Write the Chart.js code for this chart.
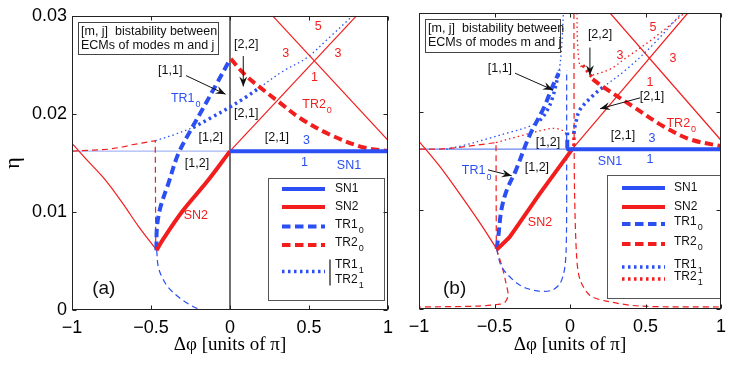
<!DOCTYPE html>
<html>
<head>
<meta charset="utf-8">
<script src="https://cdn.jsdelivr.net/npm/chart.js@4.4.1/dist/chart.umd.min.js"></script>
<style>
  html, body { margin: 0; padding: 0; background: #fff; }
  #wrap { position: relative; width: 747px; height: 376px; }
  canvas { position: absolute; top: 0; }
</style>
</head>
<body>
<div id="wrap">
  <canvas id="chartA" width="400" height="376" style="left:0"></canvas>
  <canvas id="chartB" width="347" height="376" style="left:400px"></canvas>
</div>
<script>
// axis ticks
const xTicks = [-1, -0.5, 0, 0.5, 1];
const yTicks = [0, 0.01, 0.02, 0.03];

// ---- panel (a) curves, points are [dphi, eta] ----
const aSN1 = [[0, 0.0162], [1, 0.0162]];
const aSN1left = [[-1, 0.0162], [0, 0.0162]];
const aSN2 = [[-0.464, 0.0061], [-0.42, 0.0073], [-0.3, 0.0101], [-0.14, 0.0132], [0, 0.0162]];
const aSN2left = [[-1, 0.0170], [-0.9, 0.0152], [-0.786, 0.0132], [-0.68, 0.0109], [-0.578, 0.0085], [-0.464, 0.0061]];
const aSNup = [[0, 0.0162], [0.8, 0.03]];
const aSNdown = [[0.27, 0.03], [1, 0.0173]];
const aTR1_0 = [[-0.466, 0.0061], [-0.462, 0.0085], [-0.44, 0.0105], [-0.39, 0.0129], [-0.328, 0.0159],
                [-0.25, 0.0183], [-0.18, 0.0203], [-0.08, 0.0232], [-0.005, 0.0254]];
const aTR1_0low = [[-0.464, 0.0061], [-0.455, 0.0045], [-0.432, 0.0034], [-0.39, 0.0023], [-0.328, 0.00135],
                   [-0.26, 0.0006], [-0.19, 0]];
const aTR2_0 = [[0.005, 0.0256], [0.1, 0.0239], [0.19, 0.0227], [0.31, 0.0212], [0.45, 0.0195],
                [0.63, 0.0179], [0.84, 0.0166], [1, 0.0162]];
const aTR2_0left = [[-1, 0.0162], [-0.87, 0.0163], [-0.766, 0.0164], [-0.68, 0.01662], [-0.62, 0.01685],
                    [-0.55, 0.01705], [-0.473, 0.01726], [-0.47, 0.0061]];
const aTR1_1start = [[-0.473, 0.01726], [-0.35, 0.0179], [-0.234, 0.0186]];
const aTR1_1mid = [[-0.234, 0.0186], [-0.12, 0.0196], [0, 0.0207], [0.1, 0.0217], [0.19, 0.0227]];
const aTR1_1end = [[0.19, 0.0227], [0.33, 0.0243], [0.484, 0.0257], [0.63, 0.0278], [0.776, 0.03]];
const aZero = [[0, 0], [0, 0.03]];

// ---- panel (b) curves ----
const bSN1 = [[-0.02, 0.0162], [1, 0.0162]];
const bSN1left = [[-1, 0.0162], [-0.02, 0.0162]];
const bSN2 = [[-0.486, 0.006], [-0.4, 0.0073], [-0.2, 0.0117], [0.02, 0.0163]];
const bSN2left = [[-1, 0.0170], [-0.87, 0.0146], [-0.75, 0.0121], [-0.6, 0.0088], [-0.486, 0.0061]];
const bSNup = [[0.02, 0.0163], [0.78, 0.03]];
const bSNdown = [[0.265, 0.03], [1, 0.0171]];
const bTR1_0 = [[-0.486, 0.0061], [-0.475, 0.0073], [-0.455, 0.01], [-0.42, 0.012], [-0.36, 0.014],
                [-0.27, 0.0175], [-0.17, 0.0205], [-0.12, 0.0224], [-0.075, 0.0239]];
const bTR1_0stub = [[-0.018, 0.0163], [-0.018, 0.0179]];
const bTR1_0low = [[-0.486, 0.0061], [-0.46, 0.0045], [-0.42, 0.0036], [-0.35, 0.0026], [-0.29, 0.0021],
                   [-0.2, 0.0018], [-0.12, 0.0019], [-0.07, 0.0025], [-0.045, 0.0034], [-0.032, 0.0045],
                   [-0.026, 0.0058], [-0.023, 0.008], [-0.022, 0.011]];
const bTR1_0rise = [[-0.022, 0.011], [-0.022, 0.0242]];
const bTR2_0 = [[0.15, 0.0233], [0.22, 0.0225], [0.42, 0.0205], [0.62, 0.0185], [0.795, 0.0172], [1, 0.0165]];
const bTR2_0left = [[-1, 0.0162], [-0.87, 0.0162], [-0.75, 0.01635], [-0.68, 0.01648], [-0.62, 0.0166],
                    [-0.55, 0.01675], [-0.49, 0.01687], [-0.488, 0.0061]];
const bTR2_0low = [[-0.486, 0.0061], [-0.477, 0.0056], [-0.45, 0.0043], [-0.425, 0.0027], [-0.41, 0.0014],
                   [-0.43, 0.0007], [-0.46, 0.0005], [-0.6, 0.0003], [-1, 0.0002]];
const bTR2_0right = [[0.026, 0.03], [0.027, 0.02], [0.03, 0.012], [0.044, 0.0053], [0.066, 0.003],
                     [0.13, 0.0014], [0.24, 0.0008], [0.46, 0.0003], [1, 0.0002]];
const bTR1_1left = [[-0.82, 0.0162], [-0.7, 0.0166], [-0.56, 0.0172], [-0.4, 0.0179], [-0.27, 0.0185], [-0.2, 0.0191]];
const bTR1_1thick = [[-0.2, 0.0191], [-0.16, 0.0199], [-0.12, 0.0212], [-0.07, 0.0242]];
const bTR1_1top = [[-0.07, 0.0242], [-0.058, 0.026], [-0.05, 0.028], [-0.044, 0.03]];
const bTR1_1right = [[0.025, 0.0178], [0.04, 0.019], [0.066, 0.0202], [0.15, 0.0216], [0.22, 0.0225]];
const bTR1_1far = [[0.22, 0.0225], [0.375, 0.0243], [0.55, 0.0268], [0.74, 0.03]];
const bTR2_1hump = [[-0.49, 0.01687], [-0.34, 0.0175], [-0.16, 0.0182], [-0.1, 0.0183], [-0.05, 0.0181], [-0.028, 0.0178]];
const bTR2_1stem = [[0.026, 0.018], [0.026, 0.0163]];
const bTR2_1top = [[0.046, 0.03], [0.05, 0.027], [0.066, 0.0246], [0.085, 0.0247]];
const bTR2_1knee = [[0.085, 0.0247], [0.15, 0.0234]];
const bTR2_1far = [[0.15, 0.0237], [0.265, 0.0243], [0.375, 0.0255], [0.55, 0.0274], [0.76, 0.03]];

// ---- annotations: [text, dphi, eta, colour, subscript] ----
const labelsA = [
  ['[2,2]', 0.103, 0.0271, 'k'], ['[1,1]', -0.378, 0.0244, 'k'], ['TR1', -0.28, 0.0216, 'b', '0'],
  ['[2,1]', 0.103, 0.0200, 'k'], ['TR2', 0.551, 0.0210, 'r', '0'], ['[1,2]', -0.122, 0.0176, 'k'],
  ['[2,1]', 0.297, 0.0176, 'k'], ['3', 0.484, 0.0173, 'b'], ['1', 0.472, 0.0150, 'b'],
  ['SN1', 0.753, 0.0147, 'b'], ['[1,2]', -0.209, 0.0149, 'k'], ['5', 0.559, 0.0289, 'r'],
  ['3', 0.353, 0.0262, 'r'], ['3', 0.684, 0.0261, 'r'], ['1', 0.534, 0.0237, 'r'], ['SN2', -0.216, 0.0096, 'r']
];
const arrowsA = [[-0.278, 0.0239, -0.028, 0.0220], [0.084, 0.0259, 0.084, 0.0228]];
const labelsB = [
  ['[2,2]', 0.199, 0.0278, 'k'], ['[1,1]', -0.464, 0.0244, 'k'], ['[2,1]', 0.543, 0.0215, 'k'],
  ['3', 0.331, 0.0257, 'r'], ['5', 0.55, 0.0285, 'r'], ['3', 0.682, 0.0254, 'r'], ['1', 0.53, 0.0230, 'r'],
  ['TR2', 0.737, 0.0188, 'r', '0'], ['[2,1]', 0.351, 0.0176, 'k'], ['3', 0.543, 0.0173, 'b'],
  ['[1,2]', -0.146, 0.0169, 'k'], ['SN1', 0.265, 0.0149, 'b'], ['1', 0.53, 0.0151, 'b'],
  ['TR1', -0.618, 0.0140, 'b', '0'], ['[1,2]', -0.219, 0.0143, 'k'], ['SN2', -0.199, 0.0088, 'r']
];
const arrowsB = [[-0.364, 0.0239, -0.113, 0.0222], [0.132, 0.0265, 0.132, 0.0237],
                 [0.464, 0.0214, 0.199, 0.0203], [-0.543, 0.0141, -0.386, 0.0135]];

const BLUE = '#2b4ff2', RED = '#f21d1d', LIGHTBLUE = '#a9b6f5', MIDBLUE = '#6a86f0';
const COL = { k: '#111', b: BLUE, r: RED };
const ST = {
  thick: { borderWidth: 4, borderDash: [] },
  thin:  { borderWidth: 1.2, borderDash: [] },
  dashT: { borderWidth: 4, borderDash: [8.5, 4.5] },
  dash:  { borderWidth: 1.2, borderDash: [6, 4] },
  dotT:  { borderWidth: 3.5, borderDash: [2.5, 3.5] },
  dot:   { borderWidth: 1.3, borderDash: [1.5, 3] }
};
const SANS = '"Liberation Sans", Arial, sans-serif';

function ds(pts, color, st, tension) {
  return Object.assign({
    data: pts.map(p => ({ x: p[0], y: p[1] })),
    borderColor: color, pointRadius: 0, fill: false, borderCapStyle: 'butt',
    tension: tension === undefined ? 0.35 : tension
  }, ST[st]);
}

function txt(ctx, s, px, py, color, size, sub, left) {
  ctx.font = size + 'px ' + SANS;
  const w = ctx.measureText(s).width;
  const ss = Math.round(size * 0.75);
  let sw = 0;
  if (sub) { ctx.font = ss + 'px ' + SANS; sw = ctx.measureText(sub).width + 1; }
  const x0 = left ? px : px - (w + sw) / 2;
  ctx.fillStyle = color; ctx.textAlign = 'left'; ctx.textBaseline = 'middle';
  ctx.font = size + 'px ' + SANS;
  ctx.fillText(s, x0, py);
  if (sub) { ctx.font = ss + 'px ' + SANS; ctx.fillText(sub, x0 + w + 1, py + size * 0.5); }
}

function arrow(ctx, x1, y1, x2, y2) {
  ctx.strokeStyle = '#111'; ctx.fillStyle = '#111'; ctx.lineWidth = 1; ctx.setLineDash([]);
  ctx.beginPath(); ctx.moveTo(x1, y1); ctx.lineTo(x2, y2); ctx.stroke();
  const a = Math.atan2(y2 - y1, x2 - x1), L = 10, W = 4;
  const c = Math.cos(a), s = Math.sin(a);
  ctx.beginPath();
  ctx.moveTo(x2, y2);
  ctx.lineTo(x2 - L * c + W * s, y2 - L * s - W * c);
  ctx.lineTo(x2 - 0.65 * L * c, y2 - 0.65 * L * s);
  ctx.lineTo(x2 - L * c - W * s, y2 - L * s + W * c);
  ctx.closePath(); ctx.fill();
}

const PANEL = {
  chartA: {
    tag: '(a)', tagAt: [-0.872, 0.0022], labels: labelsA, arrows: arrowsA,
    box: { dx: 6, dy: 6, w: 140, h: 32 },
    legend: { right: 4, bottom: 10, w: 116, h: 122, x1: 14, x2: 57, tx: 67,
      rows: [['SN1', '', BLUE, 'thick', 11], ['SN2', '', RED, 'thick', 29],
             ['TR1', '0', BLUE, 'dashT', 48.5], ['TR2', '0', RED, 'dashT', 67]],
      pair: { y: 93.5, c: BLUE, bar: true, t1: 88.5, t2: 103.5 } }
  },
  chartB: {
    tag: '(b)', tagAt: [-0.841, 0.0021], labels: labelsB, arrows: arrowsB,
    box: { dx: 6, dy: 6, w: 135, h: 33 },
    legend: { right: 1, bottom: 11, w: 113, h: 123, x1: 15, x2: 58, tx: 67,
      rows: [['SN1', '', BLUE, 'thick', 13], ['SN2', '', RED, 'thick', 32],
             ['TR1', '0', BLUE, 'dashT', 49], ['TR2', '0', RED, 'dashT', 69],
             ['TR1', '1', BLUE, 'dotT', 92], ['TR2', '1', RED, 'dotT', 104]] }
  }
};

const decor = {
  id: 'decor',
  afterDatasetsDraw(chart) {
    const cfg = PANEL[chart.canvas.id];
    const { ctx, chartArea: a, scales: { x, y } } = chart;
    const px = v => x.getPixelForValue(v), py = v => y.getPixelForValue(v);
    ctx.save();
    // info box
    const b = cfg.box;
    ctx.fillStyle = '#fff'; ctx.fillRect(a.left + b.dx, a.top + b.dy, b.w, b.h);
    ctx.strokeStyle = '#444'; ctx.lineWidth = 1; ctx.setLineDash([]);
    ctx.strokeRect(Math.round(a.left + b.dx) + 0.5, Math.round(a.top + b.dy) + 0.5, b.w, b.h);
    txt(ctx, '[m, j]  bistability between', a.left + b.dx + 3, a.top + b.dy + 9.5, '#111', 12.5, '', true);
    txt(ctx, 'ECMs of modes m and j', a.left + b.dx + 3, a.top + b.dy + 23.5, '#111', 12.5, '', true);
    // labels and arrows
    cfg.labels.forEach(l => txt(ctx, l[0], px(l[1]), py(l[2]), COL[l[3]], 12.5, l[4]));
    cfg.arrows.forEach(r => arrow(ctx, px(r[0]), py(r[1]), px(r[2]), py(r[3])));
    ctx.font = '19px ' + SANS; ctx.fillStyle = '#111'; ctx.textAlign = 'left'; ctx.textBaseline = 'middle';
    ctx.fillText(cfg.tag, px(cfg.tagAt[0]), py(cfg.tagAt[1]));
    // legend
    const g = cfg.legend;
    const gl = a.right - g.right - g.w, gt = a.bottom - g.bottom - g.h;
    ctx.fillStyle = '#fff'; ctx.fillRect(gl, gt, g.w, g.h);
    ctx.strokeStyle = '#555'; ctx.lineWidth = 1;
    ctx.strokeRect(Math.round(gl) + 0.5, Math.round(gt) + 0.5, g.w, g.h);
    const sample = (yy, c, st) => {
      ctx.strokeStyle = c; ctx.lineWidth = ST[st].borderWidth; ctx.setLineDash(ST[st].borderDash);
      ctx.lineCap = 'butt';
      ctx.beginPath(); ctx.moveTo(gl + g.x1, gt + yy); ctx.lineTo(gl + g.x2, gt + yy); ctx.stroke();
      ctx.setLineDash([]);
    };
    g.rows.forEach(r => {
      sample(r[4], r[2], r[3]);
      txt(ctx, r[0], gl + g.tx, gt + r[4] - (r[1] ? 2 : 0), '#111', 12, r[1], true);
    });
    if (g.pair) {
      sample(g.pair.y, g.pair.c, 'dotT');
      ctx.strokeStyle = '#111'; ctx.lineWidth = 1.2;
      ctx.beginPath(); ctx.moveTo(gl + g.x2 + 5, gt + g.pair.t1 - 7); ctx.lineTo(gl + g.x2 + 5, gt + g.pair.t2 + 4); ctx.stroke();
      txt(ctx, 'TR1', gl + g.tx, gt + g.pair.t1 - 2, '#111', 12, '1', true);
      txt(ctx, 'TR2', gl + g.tx, gt + g.pair.t2 - 2, '#111', 12, '1', true);
    }
    // frame with inward ticks
    ctx.strokeStyle = '#222'; ctx.lineWidth = 1; ctx.setLineDash([]);
    const L = Math.round(a.left) + 0.5, R = Math.round(a.right) - 0.5;
    const T = Math.round(a.top) + 0.5, B = Math.round(a.bottom) - 0.5;
    ctx.strokeRect(L, T, R - L, B - T);
    ctx.beginPath();
    xTicks.forEach(v => { const p = Math.round(px(v)) + 0.5; ctx.moveTo(p, B); ctx.lineTo(p, B - 4); ctx.moveTo(p, T); ctx.lineTo(p, T + 4); });
    yTicks.forEach(v => { const p = Math.round(py(v)) + 0.5; ctx.moveTo(L, p); ctx.lineTo(L + 4, p); ctx.moveTo(R, p); ctx.lineTo(R - 4, p); });
    ctx.stroke();
    ctx.restore();
  }
};

const fmt = v => (v < 0 ? '\u2212' + Math.abs(v) : String(v));

function makeChart(id, datasets, leftW, padRight, padTop, xH, showY) {
  return new Chart(document.getElementById(id), {
    type: 'line',
    data: { datasets },
    plugins: [decor],
    options: {
      responsive: false, animation: false, events: [],
      layout: { padding: { left: 0, right: padRight, top: padTop, bottom: 0 } },
      plugins: { legend: { display: false }, tooltip: { enabled: false } },
      scales: {
        x: {
          type: 'linear', min: -1, max: 1,
          afterBuildTicks: s => { s.ticks = xTicks.map(v => ({ value: v })); },
          afterFit: s => { s.height = xH; },
          grid: { display: false, drawTicks: false }, border: { display: false },
          ticks: { callback: fmt, color: '#000', padding: 7, maxRotation: 0, autoSkip: false,
                   font: { family: SANS, size: 18 } },
          title: { display: true, text: '\u0394\u03c6 [units of \u03c0]', color: '#000',
                   padding: { top: 0, bottom: 20 }, font: { family: '"Liberation Serif", serif', size: 19 } }
        },
        y: {
          type: 'linear', min: 0, max: 0.03,
          afterBuildTicks: s => { s.ticks = yTicks.map(v => ({ value: v })); },
          afterFit: s => { s.width = leftW; },
          grid: { display: false, drawTicks: false }, border: { display: false },
          ticks: { display: showY, callback: fmt, color: '#000', padding: 5,
                   font: { family: SANS, size: 18 } },
          title: { display: showY, text: '\u03b7', color: '#000', padding: { top: 0, bottom: 0 },
                   font: { family: '"Liberation Serif", serif', size: 22 } }
        }
      }
    }
  });
}

makeChart('chartA', [
  ds(aSN1, BLUE, 'thick', 0), ds(aSN2, RED, 'thick'), ds(aTR1_0, BLUE, 'dashT'), ds(aTR2_0, RED, 'dashT'),
  ds(aTR1_1mid, BLUE, 'dotT'), ds(aTR1_1start, BLUE, 'dot'), ds(aTR1_1end, BLUE, 'dot'),
  ds(aTR1_0low, BLUE, 'dash'), ds(aTR2_0left, RED, 'dash', 0),
  ds(aSN2left, RED, 'thin'), ds(aSNup, RED, 'thin', 0), ds(aSNdown, RED, 'thin', 0),
  ds(aSN1left, LIGHTBLUE, 'thin', 0), ds(aZero, '#111', 'thin', 0)
], 72, 8, 14, 66, true);

makeChart('chartB', [
  ds(bSN1, BLUE, 'thick', 0), ds(bSN2, RED, 'thick', 0.1), ds(bTR1_0, BLUE, 'dashT'), ds(bTR1_0stub, BLUE, 'dashT', 0),
  ds(bTR2_0, RED, 'dashT'), ds(bTR1_1thick, BLUE, 'dotT'), ds(bTR1_1right, BLUE, 'dotT'),
  ds(bTR2_1stem, RED, 'dotT', 0), ds(bTR2_1knee, RED, 'dotT', 0),
  ds(bTR1_1left, BLUE, 'dot'), ds(bTR1_1top, BLUE, 'dot'), ds(bTR1_1far, BLUE, 'dot'),
  ds(bTR2_1hump, RED, 'dot'), ds(bTR2_1top, RED, 'dot'), ds(bTR2_1far, RED, 'dot'),
  ds(bTR1_0low, BLUE, 'dash', 0.3), ds(bTR1_0rise, BLUE, 'dash', 0), ds(bTR2_0left, RED, 'dash', 0),
  ds(bTR2_0low, RED, 'dash', 0.3), ds(bTR2_0right, RED, 'dash', 0.3),
  ds(bSN2left, RED, 'thin'), ds(bSNup, RED, 'thin', 0), ds(bSNdown, RED, 'thin', 0),
  ds(bSN1left, MIDBLUE, 'thin', 0)
], 19, 26, 13, 67, false);
</script>
</body>
</html>
